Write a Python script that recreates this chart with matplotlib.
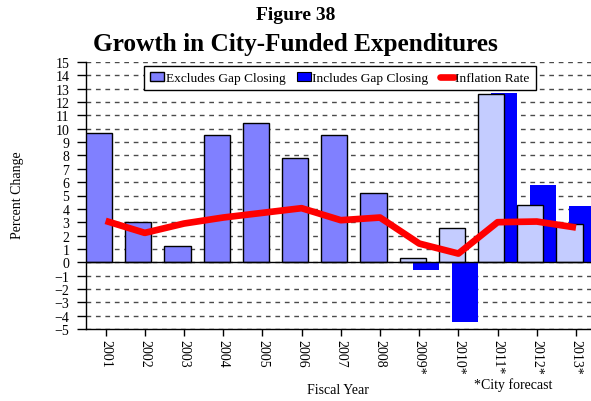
import numpy as np
import matplotlib
matplotlib.use("Agg")
import matplotlib.pyplot as plt
from matplotlib.patches import Patch
from matplotlib.lines import Line2D

# -- Data --
years = ['2001', '2002', '2003', '2004', '2005', '2006', '2007', '2008',
         '2009*', '2010*', '2011*', '2012*', '2013*']
excludes = [9.65, 3.0, 1.2, 9.5, 10.45, 7.8, 9.5, 5.2, 0.35, 2.55, 12.6, 4.3, 2.85]
includes = [np.nan] * 8 + [-0.55, -4.45, 12.7, 5.8, 4.2]
inflation = [3.1, 2.2, 2.9, 3.35, 3.7, 4.05, 3.15, 3.35, 1.4, 0.65, 3.0, 3.05, 2.6]
n_actual = 8  # years before the city forecast

plt.rcParams['font.family'] = ['Liberation Serif', 'DejaVu Serif']

def main():
    fig = plt.figure(figsize=(5.91, 4.02), dpi=100)
    ax = fig.add_axes([86/591, 1 - 330/402, 509.6/591, 267/402])

    x = np.arange(len(years))
    w = 2/3
    c_dark = '#8080ff'
    c_light = '#c4ccff'
    c_inc = '#0000ff'
    ex_colors = [c_dark]*n_actual + [c_light]*(len(years) - n_actual)

    # includes bars behind, excludes bars on top
    ax.bar(x + 1/6, includes, width=w, color=c_inc, edgecolor='none', zorder=2)
    ax.bar(x - 1/6, excludes, width=w, color=ex_colors, edgecolor='black', linewidth=1, zorder=3)
    ax.plot(x, inflation, color='#ff0000', linewidth=4.8, zorder=4, solid_capstyle='butt')

    ax.axhline(0, color='black', linewidth=1, zorder=3)
    ax.set_xlim(-0.5, len(years) - 0.5)
    ax.set_ylim(-5, 15)
    ax.set_yticks(range(-5, 16))
    ax.set_xticks(x)
    ax.set_xticklabels(years, rotation=270, fontsize=10)
    ax.tick_params(axis='y', labelsize=10, length=6.5, width=1, pad=5.5)
    ax.tick_params(axis='x', length=5, width=1, pad=2.5)
    ax.yaxis.grid(True, color='#4a4a4a', linewidth=1, dashes=(3.4, 3.4))
    ax.set_axisbelow(True)
    for s in ['top', 'right']:
        ax.spines[s].set_visible(False)
    for s in ['left', 'bottom']:
        ax.spines[s].set_linewidth(1)

    handles = [Patch(facecolor=c_dark, edgecolor='black', linewidth=1),
               Patch(facecolor=c_inc, edgecolor='black', linewidth=0.8),
               Line2D([], [], color='#ff0000', linewidth=4.8, solid_capstyle='round')]
    labels = ['Excludes Gap Closing', 'Includes Gap Closing', 'Inflation Rate']
    leg = fig.legend(handles, labels, loc='upper left', bbox_to_anchor=(144/591, 1 - 67/402),
                     ncol=3, fontsize=9.6, frameon=True, fancybox=False, framealpha=1,
                     edgecolor='black', borderpad=0.45, handlelength=1.05, handleheight=0.65,
                     handletextpad=0.12, columnspacing=0.85, borderaxespad=0)
    leg.get_frame().set_linewidth(1)

    fig.text(0.5, 1 - 16/402, 'Figure 38', ha='center', va='center', fontsize=14, fontweight='bold')
    fig.text(0.5, 1 - 44/402, 'Growth in City-Funded Expenditures', ha='center', va='center',
             fontsize=18.2, fontweight='bold')
    fig.text(18/591, 1 - 195/402, 'Percent Change', rotation=90, ha='center', va='center', fontsize=10)
    fig.text(338/591, 1 - 391/402, 'Fiscal Year', ha='center', va='center', fontsize=10)
    fig.text(513/591, 1 - 385/402, '*City forecast', ha='center', va='center', fontsize=10)

    fig.savefig('out.png', dpi=100)

if __name__ == "__main__":
    main()
